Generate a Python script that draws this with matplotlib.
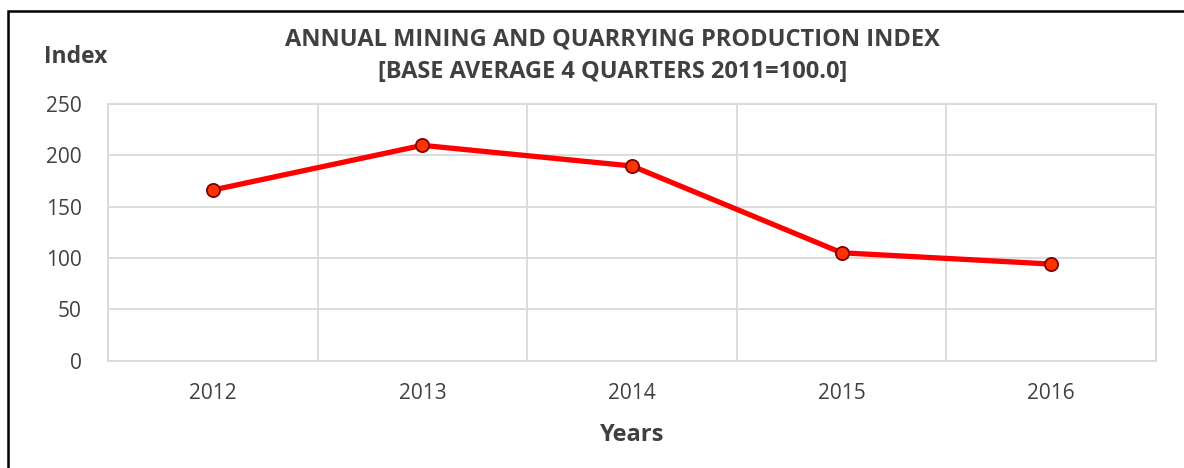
import matplotlib.pyplot as plt
from matplotlib.patches import Rectangle

# data
years = ["2012", "2013", "2014", "2015", "2016"]
index_values = [166, 209.5, 189.4, 105, 94]
y_ticks = [0, 50, 100, 150, 200, 250]

plt.rcParams["font.family"] = ["Open Sans", "DejaVu Sans"]
text_color = "#404040"
grid_color = "#D9D9D9"

fig = plt.figure(figsize=(11.84, 4.68), dpi=100)
ax = fig.add_axes([0.0912, 0.2293, 0.8852, 0.5491])

x = list(range(len(years)))
ax.plot(x, index_values, color="#FF0000", linewidth=3.8,
        marker="o", markersize=9.5, markerfacecolor="#FF3300",
        markeredgecolor="#7F0000", markeredgewidth=1.3, zorder=3)

ax.set_xlim(-0.5, len(years) - 0.5)
ax.set_ylim(0, 250)
ax.set_yticks(y_ticks)
ax.set_xticks(x)
ax.set_xticklabels(years)
ax.set_xticks([i - 0.5 for i in range(len(years) + 1)], minor=True)

ax.grid(axis="y", which="major", color=grid_color, linewidth=1.3)
ax.grid(axis="x", which="minor", color=grid_color, linewidth=1.3)
ax.grid(axis="x", which="major", visible=False)
ax.tick_params(which="both", length=0)
ax.tick_params(axis="y", labelsize=15, labelcolor=text_color, pad=19)
ax.tick_params(axis="x", labelsize=15, labelcolor=text_color, pad=16)
for s in ax.spines.values():
    s.set_color(grid_color)
    s.set_linewidth(1.3)

ax.set_xlabel("Years", fontsize=17, fontweight="bold", color=text_color, labelpad=14)

fig.text(0.517, 0.915, "ANNUAL MINING AND QUARRYING PRODUCTION INDEX",
         ha="center", va="center", fontsize=17, fontweight="bold", color=text_color)
fig.text(0.517, 0.846, "[BASE AVERAGE 4 QUARTERS 2011=100.0]",
         ha="center", va="center", fontsize=17, fontweight="bold", color=text_color)
fig.text(0.037, 0.878, "Index", ha="left", va="center",
         fontsize=16.5, fontweight="bold", color=text_color)

# outer chart border (only top and left visible in the crop)
fig.patches.append(Rectangle((0.0068, -0.1), 1.2, 0.1 + 0.9765,
                             transform=fig.transFigure, fill=False,
                             edgecolor="black", linewidth=1.8))

fig.savefig("out.png", dpi=100)
